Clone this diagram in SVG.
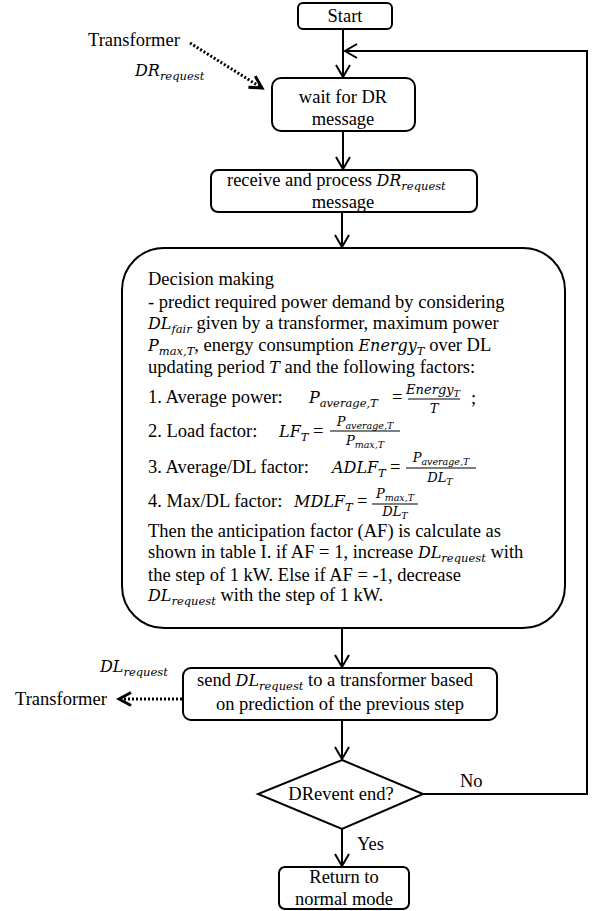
<svg xmlns="http://www.w3.org/2000/svg" width="596" height="911" viewBox="0 0 596 911" font-family="'Liberation Serif', 'Times New Roman', serif">
<style>
  .box { fill: #fff; stroke: #000; stroke-width: 2; }
  .ln { fill: none; stroke: #000; stroke-width: 2; }
  .bar { fill: none; stroke: #000; stroke-width: 1.2; }
  .dot { fill: none; stroke: #000; stroke-width: 3; stroke-dasharray: 2 2; }
  text { font-family: 'Liberation Serif', 'Times New Roman', serif; font-size: 18.5px; fill: #000; }
  .c { text-anchor: middle; }
  .m { font-family: 'DejaVu Serif', serif; font-style: italic; font-size: 16px; }
  .s { font-family: 'DejaVu Serif', serif; font-style: italic; font-size: 11.5px; }
  .f { font-family: 'DejaVu Serif', serif; font-style: italic; font-size: 13px; }
  .fs { font-size: 9.5px; }
</style>
<defs>
  <marker id="arr" markerUnits="userSpaceOnUse" markerWidth="16" markerHeight="16" refX="13" refY="8" orient="auto">
    <path d="M1,1 L13,8 L1,15" fill="none" stroke="#000" stroke-width="2"/>
  </marker>
  <marker id="arrb" markerUnits="userSpaceOnUse" markerWidth="16" markerHeight="16" refX="13" refY="8" orient="auto">
    <path d="M1,1.5 L13,8 L1,14.5" fill="none" stroke="#000" stroke-width="3"/>
  </marker>
</defs>

<!-- connectors and their labels -->
<g id="connectors">
  <line class="ln" x1="343" y1="29" x2="343" y2="77" marker-end="url(#arr)"/>
  <polyline class="ln" points="423,794 587,794 587,51 345,51" marker-end="url(#arr)"/>
  <line class="ln" x1="343" y1="131" x2="343" y2="169" marker-end="url(#arr)"/>
  <line class="ln" x1="342" y1="212" x2="342" y2="247" marker-end="url(#arr)"/>
  <line class="ln" x1="342" y1="628" x2="342" y2="667" marker-end="url(#arr)"/>
  <line class="ln" x1="342" y1="720" x2="342" y2="759" marker-end="url(#arr)"/>
  <line class="ln" x1="342" y1="829" x2="342" y2="866" marker-end="url(#arr)"/>
  <line class="dot" x1="190" y1="43" x2="262" y2="88" marker-end="url(#arrb)"/>
  <line class="dot" x1="182" y1="699" x2="119" y2="699" marker-end="url(#arrb)"/>
  <text x="88" y="46">Transformer</text>
  <text x="135" y="76"><tspan class="m">DR</tspan><tspan class="s" dy="4">request</tspan></text>
  <text x="15" y="705">Transformer</text>
  <text x="100" y="672"><tspan class="m">DL</tspan><tspan class="s" dy="4">request</tspan></text>
  <text x="460" y="787">No</text>
  <text x="357" y="850">Yes</text>
</g>

<g id="start">
  <rect class="box" x="298" y="3" width="94" height="26" rx="5"/>
  <text class="c" x="345" y="22">Start</text>
</g>

<g id="wait">
  <rect class="box" x="272" y="78" width="143" height="53" rx="9"/>
  <text class="c" x="343" y="103">wait for DR</text>
  <text class="c" x="343" y="125">message</text>
</g>

<g id="receive">
  <rect class="box" x="211" y="170" width="266" height="42" rx="7"/>
  <text x="227" y="186">receive and process <tspan class="m">DR</tspan><tspan class="s" dy="4">request</tspan></text>
  <text class="c" x="343" y="208">message</text>
</g>

<g id="decision">
  <rect class="box" x="122" y="248" width="443" height="380" rx="42"/>
  <text x="148" y="285">Decision making</text>
  <text x="148" y="308">- predict required power demand by considering</text>
  <text x="148" y="329"><tspan class="m">DL</tspan><tspan class="s" dy="4">fair</tspan><tspan dy="-4"> given by a transformer, maximum power</tspan></text>
  <text x="148" y="351"><tspan class="m">P</tspan><tspan class="s" dy="4">max,T</tspan><tspan dy="-4">, energy consumption </tspan><tspan class="m">Energy</tspan><tspan class="s" dy="4">T</tspan><tspan dy="-4"> over DL</tspan></text>
  <text x="148" y="373">updating period <tspan class="m">T</tspan>  and the following factors:</text>

  <!-- 1. average power -->
  <text x="148" y="403">1. Average power:</text>
  <text x="309" y="403"><tspan class="m">P</tspan><tspan class="s" dy="4">average,T</tspan></text>
  <text x="392" y="403">=</text>
  <text class="f c" x="433" y="394">Energy<tspan class="fs" dy="3">T</tspan></text>
  <line class="bar" x1="408" y1="399" x2="460" y2="399"/>
  <text class="f c" x="434" y="413">T</text>
  <text x="471" y="404">;</text>

  <!-- 2. load factor -->
  <text x="148" y="437">2. Load factor:</text>
  <text x="279" y="437"><tspan class="m">LF</tspan><tspan class="s" dy="4">T</tspan></text>
  <text x="313" y="437">=</text>
  <text class="f c" x="365" y="426">P<tspan class="fs" dy="3">average,T</tspan></text>
  <line class="bar" x1="330" y1="431" x2="400" y2="431"/>
  <text class="f c" x="365" y="445">P<tspan class="fs" dy="3">max,T</tspan></text>

  <!-- 3. average/DL factor -->
  <text x="148" y="473">3. Average/DL factor:</text>
  <text x="332" y="473"><tspan class="m">ADLF</tspan><tspan class="s" dy="4">T</tspan></text>
  <text x="390" y="473">=</text>
  <text class="f c" x="441" y="462">P<tspan class="fs" dy="3">average,T</tspan></text>
  <line class="bar" x1="406" y1="468" x2="476" y2="468"/>
  <text class="f c" x="440" y="482">DL<tspan class="fs" dy="3">T</tspan></text>

  <!-- 4. max/DL factor -->
  <text x="148" y="507">4. Max/DL factor:</text>
  <text x="294" y="507"><tspan class="m">MDLF</tspan><tspan class="s" dy="4">T</tspan></text>
  <text x="357" y="507">=</text>
  <text class="f c" x="395" y="498">P<tspan class="fs" dy="3">max,T</tspan></text>
  <line class="bar" x1="372" y1="504" x2="418" y2="504"/>
  <text class="f c" x="395" y="516">DL<tspan class="fs" dy="3">T</tspan></text>

  <text x="148" y="537">Then the anticipation factor (AF) is calculate as</text>
  <text x="148" y="558">shown in table I. if AF = 1, increase <tspan class="m">DL</tspan><tspan class="s" dy="4">request</tspan><tspan dy="-4"> with</tspan></text>
  <text x="148" y="581">the step of 1 kW. Else if AF = -1, decrease</text>
  <text x="148" y="601"><tspan class="m">DL</tspan><tspan class="s" dy="4">request</tspan><tspan dy="-4"> with the step of 1 kW.</tspan></text>
</g>

<g id="send">
  <rect class="box" x="183" y="668" width="314" height="52" rx="8"/>
  <text x="197" y="686">send <tspan class="m">DL</tspan><tspan class="s" dy="4">request</tspan><tspan dy="-4"> to a transformer based</tspan></text>
  <text class="c" x="340" y="710">on prediction of the previous step</text>
</g>

<g id="end-check">
  <polygon class="box" points="342,760 423,794 342,829 258,794"/>
  <text class="c" x="341" y="800">DRevent end?</text>
</g>

<g id="return">
  <rect class="box" x="279" y="867" width="130" height="42" rx="6"/>
  <text class="c" x="344" y="883">Return to</text>
  <text class="c" x="344" y="905">normal mode</text>
</g>
</svg>
